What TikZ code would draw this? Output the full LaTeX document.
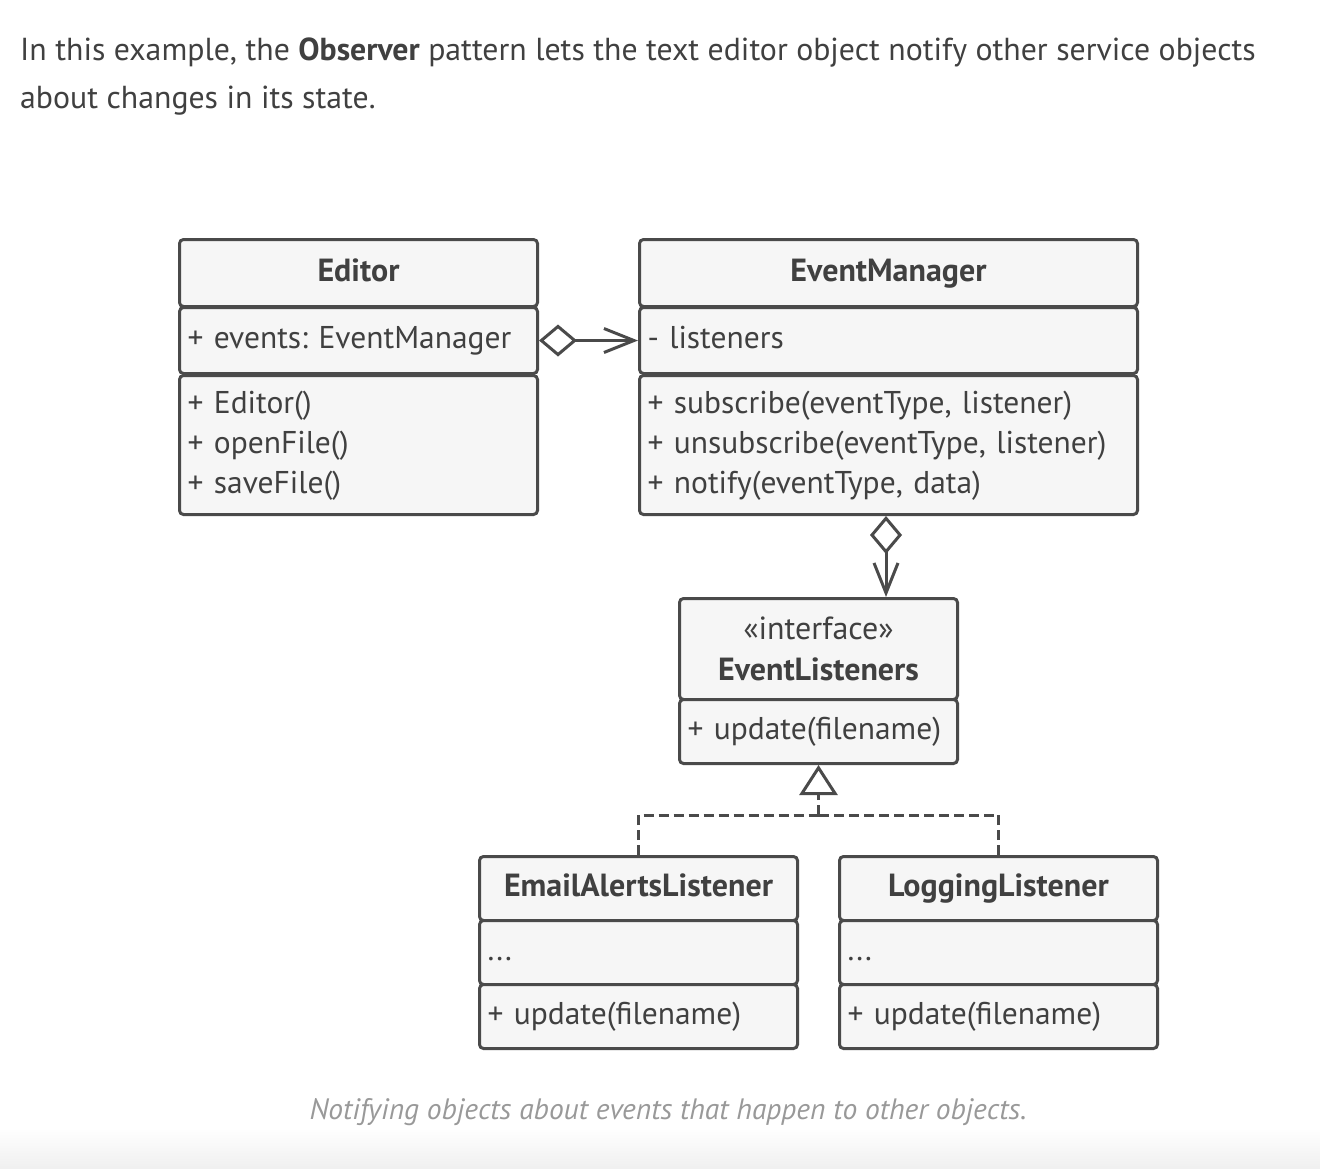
\documentclass[tikz,border=0pt]{standalone}
\usepackage{fontspec}
\setmainfont{PT Sans}
\usetikzlibrary{arrows.meta}

\definecolor{umlline}{HTML}{4A4A4A}
\definecolor{umlfill}{HTML}{F6F6F6}
\definecolor{umltext}{HTML}{404040}
\definecolor{captext}{HTML}{999999}

\tikzset{
    plainbox/.style={draw=umlline, fill=umlfill, line width=3pt, rounded corners=4pt,
        anchor=north west, inner sep=0pt, text=umltext,
        execute at begin node=\frenchspacing,
        font=\fontsize{31.5}{40}\selectfont},
    box/.style={plainbox, execute at begin node=\strut, execute at end node=\strut},
    iface/.style={plainbox, font=\bfseries\fontsize{32}{41}\selectfont, align=center},
    head/.style={box, font=\bfseries\fontsize{32}{41}\selectfont, align=center},
    body/.style={box, align=left},
    aggr/.style={draw=umlline, line width=3pt,
        {Diamond[open, fill=white, length=38pt, width=32pt]}-{Straight Barb[length=30pt, width=24pt]}},
    real/.style={draw=umlline, line width=3pt, dash pattern=on 10pt off 5pt},
}

\begin{document}
\begin{tikzpicture}[x=1pt, y=-1pt]
    \useasboundingbox (0,0) rectangle (1320,1168);
    \shade[top color=white, bottom color=black!6] (0,1128) rectangle (1320,1168);

    %% Intro text
    \node[anchor=base west, inner sep=0pt, text=umltext, font=\fontsize{31.8}{48}\selectfont]
        (intro1) at (20,60) {In this example, the \textbf{Observer} pattern lets the text editor object notify other service objects};
    \node[anchor=base west, inner sep=0pt, text=umltext, font=\fontsize{31.8}{48}\selectfont]
        (intro2) at (20,108) {about changes in its state.};

    %% Editor
    \node[head, minimum width=358, minimum height=67] (ed-head) at (178,238) {Editor};
    \node[body, minimum width=358, minimum height=66, text width=342] (ed-attr) at (178,306) {+ events: EventManager};
    \node[body, minimum width=358, minimum height=139, text width=342] (ed-body) at (178,374)
        {+ Editor()\\+ openFile()\\+ saveFile()};

    %% EventManager
    \node[head, minimum width=498, minimum height=67] (em-head) at (638,238) {EventManager};
    \node[body, minimum width=498, minimum height=66, text width=482] (em-attr) at (638,306) {- listeners};
    \node[body, minimum width=498, minimum height=139, text width=482] (em-body) at (638,374)
        {+ subscribe(eventType, listener)\\+ unsubscribe(eventType, listener)\\+ notify(eventType, data)};

    %% EventListeners
    \node[iface, minimum width=278, minimum height=101] (el-head) at (678,597)
        {\mdseries «interface»\\EventListeners};
    \node[body, minimum width=278, minimum height=64, text width=262] (el-body) at (678,698) {+ update(filename)};

    %% Concrete listeners
    \node[head, minimum width=318, minimum height=64] (mail-head) at (478,855) {EmailAlertsListener};
    \node[body, minimum width=318, minimum height=64, text width=302] (mail-attr) at (478,919) {...};
    \node[body, minimum width=318, minimum height=64, text width=302] (mail-body) at (478,983) {+ update(filename)};

    \node[head, minimum width=318, minimum height=64] (log-head) at (838,855) {LoggingListener};
    \node[body, minimum width=318, minimum height=64, text width=302] (log-attr) at (838,919) {...};
    \node[body, minimum width=318, minimum height=64, text width=302] (log-body) at (838,983) {+ update(filename)};

    %% Connectors
    \draw[aggr] (ed-attr.east) -- (em-attr.west);
    \draw[aggr] (em-body.south -| 886,0) -- (886,597);

    \coordinate (join) at (el-body.south |- 0,815);
    \draw[real] (mail-head.north) |- (join);
    \draw[real] (log-head.north) |- (join);
    \draw[real] (join) -- ++(0,-18) coordinate (tri);
    \draw[draw=umlline, line width=3pt, -{Triangle[open, fill=white, length=30pt, width=38pt]}]
        (tri) -- (el-body.south);

    %% Caption
    \node[anchor=base, inner sep=0pt, text=captext, font=\itshape\fontsize{29.5}{32}\selectfont]
        (caption) at (668,1119) {Notifying objects about events that happen to other objects.};
\end{tikzpicture}
\end{document}
